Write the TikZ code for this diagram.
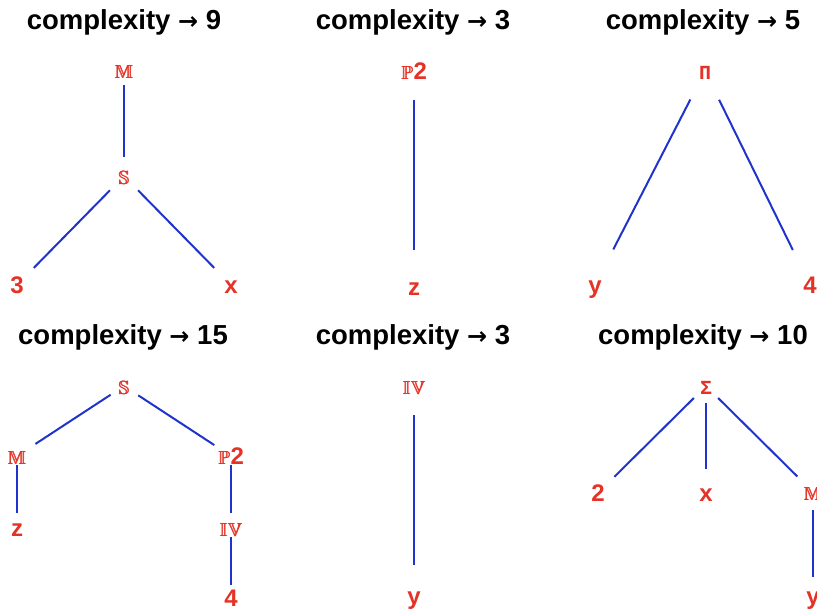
\documentclass[tikz,border=0pt]{standalone}
\usepackage{amssymb}
\usepackage{fontspec}
\setmainfont{Liberation Sans}
\newfontfamily\monofnt{Liberation Mono}
\newfontfamily\arrowfnt{DejaVu Sans}
\definecolor{labelred}{RGB}{228,50,38}
\definecolor{edgeblue}{RGB}{32,52,205}
\newcommand{\cplx}[1]{complexity {\arrowfnt\fontsize{24}{24}\selectfont →} #1}
% double-struck letter, overprinted to look heavier
\newcommand{\bbsym}[1]{{\fontsize{19}{19}\selectfont
    \rlap{$\mathbb{#1}$}\rlap{\kern0.45pt$\mathbb{#1}$}\kern0.9pt$\mathbb{#1}$}}
\newcommand{\opsym}[1]{{\monofnt\fontsize{20}{20}\selectfont #1}}

\begin{document}
\begin{tikzpicture}[x=1pt, y=-1pt,
    title/.style={font=\bfseries\fontsize{27.5}{27.5}\selectfont, inner sep=0pt},
    leaf/.style={text=labelred, font=\bfseries\fontsize{24}{24}\selectfont,
        inner sep=0pt, text height=17pt, text depth=0pt},
    edge/.style={draw=edgeblue, line width=2pt}]
\clip (0,0) rectangle (817,612);

% top row
\node[title] (t1) at (124,22) {\cplx{9}};
\node[title] (t2) at (413,22) {\cplx{3}};
\node[title] (t3) at (703,22) {\cplx{5}};

% complexity 9
\node[leaf] (m1) at (124,70) {\bbsym{M}};
\node[leaf] (s1) at (124,176) {\bbsym{S}};
\node[leaf] (n1) at (17,285) {3};
\node[leaf] (x1) at (231,285) {x};
\draw[edge, shorten <=15pt, shorten >=19pt] (m1.center) -- (s1.center);
\draw[edge, shorten <=20pt, shorten >=24pt] (s1.center) -- (n1.center);
\draw[edge, shorten <=20pt, shorten >=24pt] (s1.center) -- (x1.center);

% complexity 3
\node[leaf] (p2) at (414,71) {\bbsym{P}2};
\node[leaf] (z2) at (414,287) {z};
\draw[edge, shorten <=29pt, shorten >=37pt] (p2.center) -- (z2.center);

% complexity 5
\node[leaf] (pi3) at (705,71) {\opsym{Π}};
\node[leaf] (y3) at (595,285) {y};
\node[leaf] (n3) at (810,285) {4};
\draw[edge, shorten <=32pt, shorten >=40pt] (pi3.center) -- (y3.center);
\draw[edge, shorten <=32pt, shorten >=39pt] (pi3.center) -- (n3.center);

% bottom row
\node[title] (t4) at (123,337) {\cplx{15}};
\node[title] (t5) at (413,337) {\cplx{3}};
\node[title] (t6) at (703,337) {\cplx{10}};

% complexity 15
\node[leaf] (s4) at (124,386) {\bbsym{S}};
\node[leaf] (m4) at (17,456) {\bbsym{M}};
\node[leaf] (p4) at (231,456) {\bbsym{P}2};
\node[leaf] (z4) at (17,528) {z};
\node[leaf] (iv4) at (231,528) {\bbsym{I}\bbsym{V}};
\node[leaf] (n4) at (231,598) {4};
\draw[edge, shorten <=16pt, shorten >=22pt] (s4.center) -- (m4.center);
\draw[edge, shorten <=17pt, shorten >=20pt] (s4.center) -- (p4.center);
\draw[edge, shorten <=9pt, shorten >=15pt] (m4.center) -- (z4.center);
\draw[edge, shorten <=9pt, shorten >=15pt] (p4.center) -- (iv4.center);
\draw[edge, shorten <=9pt, shorten >=13pt] (iv4.center) -- (n4.center);

% complexity 3
\node[leaf] (iv5) at (414,386) {\bbsym{I}\bbsym{V}};
\node[leaf] (y5) at (414,596) {y};
\draw[edge, shorten <=29pt, shorten >=31pt] (iv5.center) -- (y5.center);

% complexity 10
\node[leaf] (sg6) at (706,386) {\opsym{Σ}};
\node[leaf] (n6) at (598,493) {2};
\node[leaf] (x6) at (706,493) {x};
\node[leaf] (m6) at (813,492) {\bbsym{M}};
\node[leaf] (y6) at (813,596) {y};
\draw[edge, shorten <=17pt, shorten >=23pt] (sg6.center) -- (n6.center);
\draw[edge, shorten <=17pt, shorten >=24pt] (sg6.center) -- (x6.center);
\draw[edge, shorten <=17pt, shorten >=22pt] (sg6.center) -- (m6.center);
\draw[edge, shorten <=18pt, shorten >=19pt] (m6.center) -- (y6.center);
\end{tikzpicture}
\end{document}
